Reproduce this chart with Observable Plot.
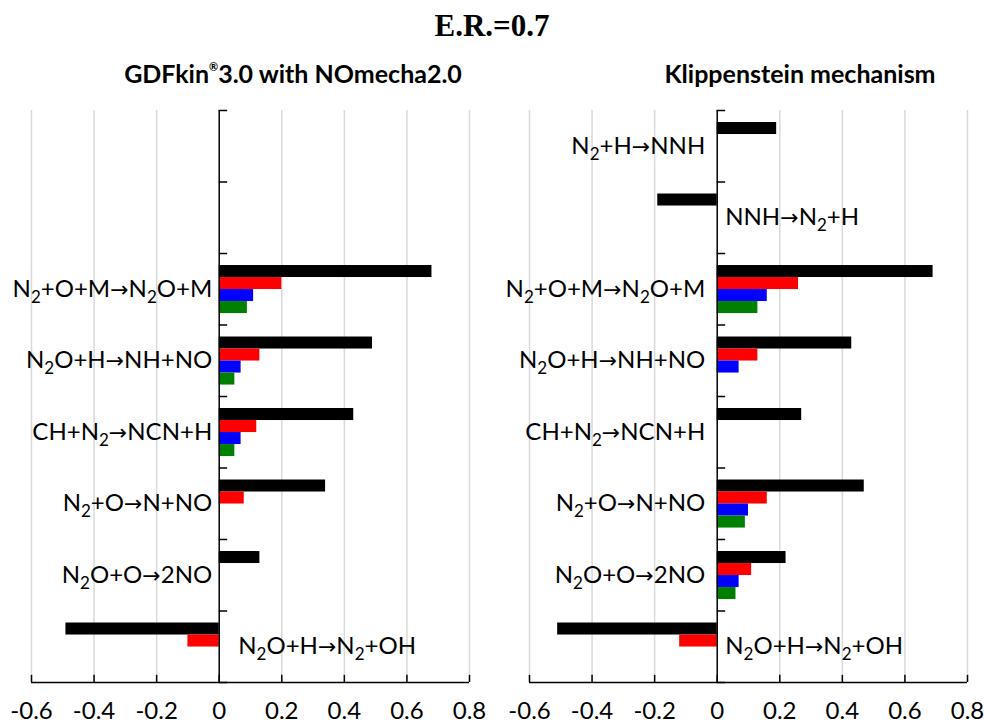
<!DOCTYPE html>
<html>
<head>
<meta charset="utf-8">
<script src="https://cdn.jsdelivr.net/npm/d3@7"></script>
<script src="https://cdn.jsdelivr.net/npm/@observablehq/plot@0.6"></script>
<style>
  body { margin: 0; background: #fff; }
  #page { position: relative; width: 984px; height: 724px; overflow: hidden; font-family: Lato, sans-serif; }
  #title { position: absolute; left: 0; width: 984px; top: 10px; text-align: center;
           font: bold 31px/31px "Liberation Serif", serif; color: #000; }
  .ptitle { position: absolute; top: 61px; transform: translateX(-50%); white-space: nowrap;
            font: bold 25px/25px Lato, sans-serif; color: #000; }
  .ptitle sup { font-size: 11px; vertical-align: 12px; line-height: 0; }
  .panel { position: absolute; top: 100px; width: 492px; }
</style>
</head>
<body>
<div id="page">
  <div id="title">E.R.=0.7</div>
  <div class="ptitle" style="left:293px">GDFkin<sup>®</sup>3.0 with NOmecha2.0</div>
  <div class="ptitle" style="left:800px">Klippenstein mechanism</div>
  <div class="panel" id="left" style="left:0px"></div>
  <div class="panel" id="right" style="left:492px"></div>
</div>
<script>
// ---- data ----
const categories = [
  "N2+H→NNH",
  "NNH→N2+H",
  "N2+O+M→N2O+M",
  "N2O+H→NH+NO",
  "CH+N2→NCN+H",
  "N2+O→N+NO",
  "N2O+O→2NO",
  "N2O+H→N2+OH"
];
const seriesNames = ["s1", "s2", "s3", "s4"];
const seriesColors = ["#000000", "#ff0000", "#0000ff", "#008000"];
const xTicks = [-0.6, -0.4, -0.2, 0, 0.2, 0.4, 0.6, 0.8];

// GDFkin 3.0 with NOmecha2.0
const gdfS1 = [null, null, 0.68, 0.49, 0.43, 0.34, 0.13, -0.49];
const gdfS2 = [null, null, 0.20, 0.13, 0.12, 0.08, null, -0.10];
const gdfS3 = [null, null, 0.11, 0.07, 0.07, null, null, null];
const gdfS4 = [null, null, 0.09, 0.05, 0.05, null, null, null];

// Klippenstein mechanism
const klipS1 = [0.19, -0.19, 0.69, 0.43, 0.27, 0.47, 0.22, -0.51];
const klipS2 = [null, null, 0.26, 0.13, null, 0.16, 0.11, -0.12];
const klipS3 = [null, null, 0.16, 0.07, null, 0.10, 0.07, null];
const klipS4 = [null, null, 0.13, null, null, 0.09, 0.06, null];

// ---- build ----
function toRows(seriesArrays) {
  const out = [];
  seriesArrays.forEach((vals, k) => vals.forEach((v, i) => {
    if (v != null) out.push({i, k, series: seriesNames[k], value: v});
  }));
  return out;
}

const PAD = 0.168, BH = 0.168; // fraction of a category band

// render chemical subscripts (digit after a letter) and a solid arrow glyph
function subscriptify(svg) {
  const NS = "http://www.w3.org/2000/svg";
  for (const t of svg.querySelectorAll("text")) {
    if (t.querySelector("tspan")) continue;
    const s = t.textContent;
    if (!/[A-Za-z]\d|→/.test(s)) continue;
    const parts = s.split(/((?<=[A-Za-z])\d|→)/);
    t.textContent = "";
    let down = false;
    parts.forEach(p => {
      if (!p) return;
      const sp = document.createElementNS(NS, "tspan");
      sp.textContent = p;
      if (/^\d$/.test(p) && /[A-Za-z]$/.test(t.textContent)) {
        sp.setAttribute("dy", "6");
        sp.setAttribute("font-size", "17");
        down = true;
      } else {
        if (down) { sp.setAttribute("dy", "-6"); down = false; }
        if (p === "→") {
          sp.setAttribute("font-family", "DejaVu Sans");
          sp.setAttribute("font-size", "22");
        }
      }
      t.appendChild(sp);
    });
  }
}

function panel(seriesArrays, opts) {
  const rows = toRows(seriesArrays);
  const first = seriesArrays[0];
  const labels = categories.map((c, i) => ({i, label: c, has: seriesArrays.some(a => a[i] != null), neg: first[i] != null && first[i] < 0}));
  const leftLabels = labels.filter(d => d.has && !d.neg);
  const rightLabels = labels.filter(d => d.has && d.neg);
  const bounds = d3.range(categories.length + 1);
  const svg = Plot.plot({
    width: 492,
    height: 624,
    marginTop: 10,
    marginBottom: 42,
    marginLeft: opts.marginLeft,
    marginRight: opts.marginRight,
    style: {fontFamily: "Lato, sans-serif", background: "#fff", overflow: "visible"},
    x: {domain: [-0.6, 0.8], axis: null},
    y: {domain: [0, categories.length], reverse: true, axis: null},
    color: {domain: seriesNames, range: seriesColors},
    marks: [
      Plot.ruleX(xTicks.filter(d => d !== 0), {stroke: "#d9d9d9", strokeWidth: 1.5}),
      Plot.rect(rows, {
        x1: 0, x2: "value",
        y1: d => d.i + PAD + d.k * BH,
        y2: d => d.i + PAD + (d.k + 1) * BH,
        fill: "series"
      }),
      Plot.ruleX([0], {stroke: "#000", strokeWidth: 1.5}),
      Plot.ruleY(bounds, {x1: 0, x2: 0.027, stroke: "#000", strokeWidth: 1.5}),
      Plot.ruleY([categories.length], {x1: -0.6, x2: 0.8, stroke: "#000", strokeWidth: 1.5}),
      Plot.ruleX(xTicks, {y1: categories.length, y2: categories.length - 0.1, stroke: "#000", strokeWidth: 1.5}),
      Plot.axisX({ticks: xTicks, tickSize: 0, tickPadding: 19, fontSize: 24, fill: "#000", label: null,
                  tickFormat: d => d === 0 ? "0" : d.toFixed(1)}),
      Plot.text(leftLabels, {x: 0, y: d => d.i + 0.5, text: "label", textAnchor: "end",
                             dx: opts.dxLeft, fontSize: 24, fill: "#000"}),
      Plot.text(rightLabels, {x: 0, y: d => d.i + 0.5, text: "label", textAnchor: "start",
                              dx: opts.dxRight, fontSize: 24, fill: "#000"})
    ]
  });
  subscriptify(svg);
  return svg;
}

document.getElementById("left").appendChild(
  panel([gdfS1, gdfS2, gdfS3, gdfS4], {marginLeft: 31, marginRight: 23, dxLeft: -7, dxRight: 19})
);
document.getElementById("right").appendChild(
  panel([klipS1, klipS2, klipS3, klipS4], {marginLeft: 37, marginRight: 17, dxLeft: -12, dxRight: 8})
);
</script>
</body>
</html>
